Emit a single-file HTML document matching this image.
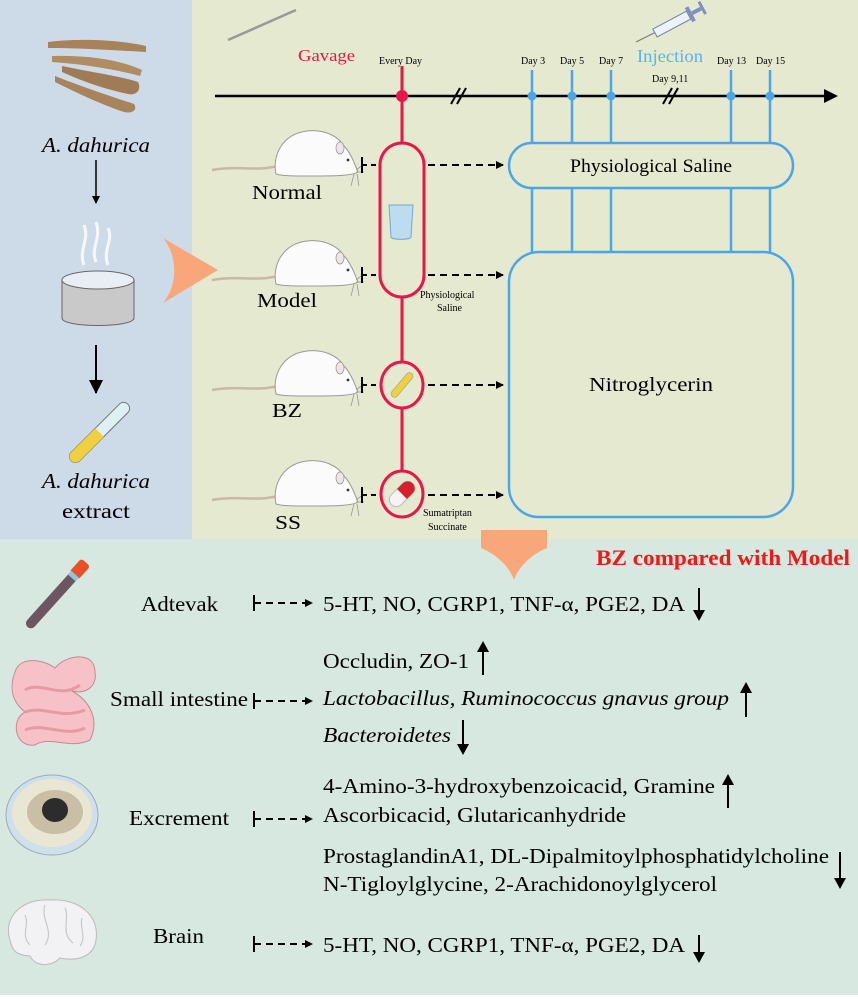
<!DOCTYPE html>
<html><head><meta charset="utf-8"><style>
html,body{margin:0;padding:0;background:#fff}
svg{display:block}
text{font-family:"Liberation Serif",serif}
</style></head><body>
<svg width="858" height="999" viewBox="0 0 858 999" xmlns="http://www.w3.org/2000/svg">
<defs>
<marker id="ah" markerWidth="8" markerHeight="8" refX="7" refY="4" orient="auto" markerUnits="userSpaceOnUse"><path d="M0,0 L8,4 L0,8 z" fill="#000"/></marker>
<marker id="ahb" markerWidth="14" markerHeight="14" refX="13" refY="7" orient="auto" markerUnits="userSpaceOnUse"><path d="M0,0 L14,7 L0,14 z" fill="#000"/></marker>
<g id="rat">
<path d="M0,42 C20,38 40,42 55,40 C62,39 66,38 70,38" fill="none" stroke="#c8b8a8" stroke-width="2.5"/>
<path d="M64,46 C60,28 70,6 95,3 C112,1 126,8 132,18 C138,24 142,34 146,44 C140,48 120,48 100,48 C82,48 70,48 64,46 z" fill="#fbfbfb" stroke="#999" stroke-width="1"/>
<ellipse cx="128" cy="20" rx="4" ry="6" fill="#eee6e6" stroke="#999" stroke-width="0.8"/>
<circle cx="136" cy="32" r="1.4" fill="#333"/>
<path d="M144,42 l8,-6 M144,44 l8,0 M142,46 l-3,12 M145,46 l2,12" stroke="#999" stroke-width="0.8"/>
</g>
</defs>
<rect x="0" y="0" width="858" height="999" fill="#d6e8df"/>
<rect x="0" y="0" width="192" height="539" fill="#cddbe9"/>
<rect x="192" y="0" width="666" height="539" fill="#e5e9cf"/>
<rect x="0" y="995" width="858" height="4" fill="#fff"/>

<g>
<path d="M48,42 C80,38 120,40 146,46 L146,52 C110,50 80,48 48,48 z" fill="#a8825a"/>
<path d="M52,56 C90,55 120,60 142,70 L140,76 C110,68 80,64 52,62 z" fill="#b08c62"/>
<path d="M62,66 C90,72 120,76 138,82 C142,90 136,96 128,94 C100,88 80,80 62,72 z" fill="#9f7c56"/>
<path d="M55,76 C80,86 110,96 134,104 C138,110 132,114 124,112 C100,104 75,92 55,82 z" fill="#a8845c"/>
</g>
<text x="42" y="152" font-size="21" font-style="italic" textLength="108" lengthAdjust="spacingAndGlyphs">A. dahurica</text>
<line x1="96" y1="160" x2="96" y2="203" stroke="#000" stroke-width="1.5" marker-end="url(#ah)"/>
<g fill="none" stroke="#fff" stroke-width="3" opacity="0.8">
<path d="M84,265 C78,250 90,240 84,225"/><path d="M96,262 C90,248 102,238 96,222"/><path d="M108,265 C102,250 114,240 108,228"/>
</g>
<path d="M62,280 L62,318 C62,328 134,328 134,318 L134,280 z" fill="#c9c9c9" stroke="#666" stroke-width="1"/>
<ellipse cx="98" cy="280" rx="36" ry="9" fill="#e9eef5" stroke="#666" stroke-width="1"/>
<line x1="96" y1="345" x2="96" y2="393" stroke="#000" stroke-width="2" marker-end="url(#ahb)"/>
<g transform="translate(96,436) rotate(45)">
<rect x="-6" y="-45" width="12" height="80" rx="6" fill="#dff0f4" stroke="#777" stroke-width="1"/>
<path d="M-6,-5 h12 v34 a6,6 0 0 1 -12,0 z" fill="#f0d040"/>
</g>
<text x="42" y="488" font-size="21" font-style="italic" textLength="108" lengthAdjust="spacingAndGlyphs">A. dahurica</text>
<text x="62" y="518" font-size="21" textLength="68" lengthAdjust="spacingAndGlyphs">extract</text>
<path d="M163,238 L218,270 L163,303 C178,285 178,256 163,238 z" fill="#f9a77a"/>

<line x1="228" y1="40" x2="296" y2="10" stroke="#999" stroke-width="2.5"/>
<text x="298" y="61" font-size="17" fill="#e8174a" textLength="57" lengthAdjust="spacingAndGlyphs">Gavage</text>
<text x="379" y="64" font-size="10">Every Day</text>
<g font-size="10">
<text x="521" y="64">Day 3</text><text x="560" y="64">Day 5</text><text x="599" y="64">Day 7</text>
<text x="652" y="82">Day 9,11</text><text x="717" y="64">Day 13</text><text x="756" y="64">Day 15</text>
</g>
<text x="637" y="62" font-size="18" fill="#5ab4e8" textLength="66" lengthAdjust="spacingAndGlyphs">Injection</text>
<line x1="636" y1="42" x2="656" y2="32" stroke="#777" stroke-width="1"/>
<g transform="translate(655,33) rotate(-28)"><rect x="0" y="-4.5" width="38" height="9" fill="#eef2fa" stroke="#7080b0"/><rect x="38" y="-8" width="4" height="16" fill="#8090c0"/><rect x="42" y="-2" width="10" height="4" fill="#8090c0"/><rect x="52" y="-7" width="3" height="14" fill="#8090c0"/></g>
<line x1="215" y1="96" x2="826" y2="96" stroke="#000" stroke-width="2.5"/>
<path d="M824,89 L838,96 L824,103 z" fill="#000"/>
<g stroke="#000" stroke-width="2"><line x1="451" y1="104" x2="460" y2="88"/><line x1="457" y1="104" x2="466" y2="88"/><line x1="663" y1="104" x2="672" y2="88"/><line x1="669" y1="104" x2="678" y2="88"/></g>

<g stroke="#4aa6e8" stroke-width="2.5" fill="none">
<line x1="532" y1="70" x2="532" y2="252"/><line x1="572" y1="70" x2="572" y2="252"/><line x1="611" y1="70" x2="611" y2="252"/><line x1="731" y1="70" x2="731" y2="252"/><line x1="770" y1="70" x2="770" y2="252"/>
<rect x="509" y="143" width="284" height="45" rx="22.5" fill="#e5e9cf"/>
<rect x="509" y="252" width="284" height="265" rx="30"/>
</g>
<g fill="#4aa6e8"><circle cx="532" cy="96" r="4.5"/><circle cx="572" cy="96" r="4.5"/><circle cx="611" cy="96" r="4.5"/><circle cx="731" cy="96" r="4.5"/><circle cx="770" cy="96" r="4.5"/></g>
<text x="570" y="172" font-size="19" textLength="162" lengthAdjust="spacingAndGlyphs">Physiological Saline</text>
<text x="589" y="391" font-size="20" textLength="124" lengthAdjust="spacingAndGlyphs">Nitroglycerin</text>

<g stroke="#e8174a" stroke-width="3" fill="none">
<line x1="402" y1="66" x2="402" y2="143"/><line x1="402" y1="297" x2="402" y2="362"/><line x1="402" y1="408" x2="402" y2="471"/>
<rect x="380" y="143" width="44" height="154" rx="22"/>
<ellipse cx="402" cy="385" rx="21" ry="23"/><ellipse cx="402" cy="494" rx="21" ry="23"/>
</g>
<circle cx="402" cy="96" r="6" fill="#e8174a"/>
<path d="M389,205 h24 l-2,32 c0,3 -20,3 -20,0 z" fill="#bcdcf0" stroke="#7aa6c4"/>
<g transform="translate(402,385) rotate(40)"><rect x="-3.5" y="-15" width="7" height="30" rx="3.5" fill="#f0d040" stroke="#999" stroke-width="0.6"/></g>
<g transform="translate(402,494) rotate(45)"><rect x="-7" y="-15" width="14" height="30" rx="7" fill="#f4f4f4" stroke="#bbb"/><path d="M-7,-8 a7,7 0 0 1 14,0 v8 h-14 z" fill="#d8202a"/></g>
<text x="420" y="298" font-size="10">Physiological</text><text x="437" y="311" font-size="10">Saline</text>
<text x="423" y="516" font-size="10">Sumatriptan</text><text x="428" y="530" font-size="10">Succinate</text>

<g>
<use href="#rat" transform="translate(212,128)"/>
<use href="#rat" transform="translate(212,238)"/>
<use href="#rat" transform="translate(212,348)"/>
<use href="#rat" transform="translate(212,458)"/>
</g>
<g font-size="20">
<text x="252" y="199" textLength="70" lengthAdjust="spacingAndGlyphs">Normal</text>
<text x="257" y="307" textLength="60" lengthAdjust="spacingAndGlyphs">Model</text>
<text x="272" y="417" textLength="30" lengthAdjust="spacingAndGlyphs">BZ</text>
<text x="275" y="529" textLength="26" lengthAdjust="spacingAndGlyphs">SS</text>
</g>
<g stroke="#000" stroke-width="2">
<line x1="362" y1="157" x2="362" y2="173"/><line x1="362" y1="165" x2="380" y2="165" stroke-dasharray="5,4"/>
<line x1="362" y1="267" x2="362" y2="283"/><line x1="362" y1="275" x2="380" y2="275" stroke-dasharray="5,4"/>
<line x1="362" y1="377" x2="362" y2="393"/><line x1="362" y1="385" x2="380" y2="385" stroke-dasharray="5,4"/>
<line x1="362" y1="487" x2="362" y2="503"/><line x1="362" y1="495" x2="380" y2="495" stroke-dasharray="5,4"/>
<line x1="428" y1="165" x2="503" y2="165" stroke-dasharray="7,5" marker-end="url(#ah)"/>
<line x1="428" y1="275" x2="503" y2="275" stroke-dasharray="7,5" marker-end="url(#ah)"/>
<line x1="428" y1="385" x2="503" y2="385" stroke-dasharray="7,5" marker-end="url(#ah)"/>
<line x1="428" y1="495" x2="503" y2="495" stroke-dasharray="7,5" marker-end="url(#ah)"/>
</g>

<path d="M481,530 L547,530 L547,548 C530,555 518,568 514,580 C510,568 498,555 481,548 z" fill="#f9a77a"/>
<text x="596" y="565" font-size="22" font-weight="bold" fill="#f01818" textLength="254" lengthAdjust="spacingAndGlyphs">BZ compared with Model</text>

<g transform="translate(51,601) rotate(42)"><rect x="-5" y="-45" width="10" height="80" rx="5" fill="#6e5560"/><rect x="-6" y="-52" width="12" height="18" rx="3" fill="#e8502a"/><rect x="-5" y="-36" width="10" height="5" fill="#8ac8e0"/></g>
<g fill="#f6c2c8" stroke="#c88890" stroke-width="1">
<path d="M15,672 C20,655 45,660 55,668 C65,655 95,650 95,672 C98,690 80,695 70,690 C90,700 100,720 90,740 C70,750 50,735 35,745 C15,748 10,720 25,712 C10,700 10,685 15,672 z"/>
</g>
<g fill="none" stroke="#e89aa4" stroke-width="3"><path d="M25,690 C40,680 60,700 80,685"/><path d="M25,712 C45,705 60,720 85,710"/><path d="M25,730 C45,722 65,738 85,728"/></g>
<ellipse cx="52" cy="815" rx="46" ry="40" fill="#cfe0ea" stroke="#9ab" stroke-width="1"/>
<ellipse cx="52" cy="813" rx="40" ry="34" fill="#e9e6d4"/>
<ellipse cx="55" cy="812" rx="28" ry="22" fill="#c9bfa4"/>
<ellipse cx="55" cy="810" rx="13" ry="12" fill="#2c2c2c"/>
<path d="M10,940 C2,915 25,898 50,900 C78,898 100,915 96,940 C94,955 80,962 60,958 C50,968 35,966 30,956 C15,955 12,950 10,940 z" fill="#f2f2f4" stroke="#bbb"/>
<g fill="none" stroke="#c8c8cc" stroke-width="1.2"><path d="M25,915 c5,10 -5,20 5,30"/><path d="M45,905 c-5,15 10,25 0,40"/><path d="M65,908 c5,10 -5,25 8,35"/><path d="M82,918 c-3,10 5,18 -2,28"/></g>

<g font-size="21">
<text x="141" y="611" textLength="77" lengthAdjust="spacingAndGlyphs">Adtevak</text>
<text x="110" y="706" textLength="138" lengthAdjust="spacingAndGlyphs">Small intestine</text>
<text x="129" y="825" textLength="100" lengthAdjust="spacingAndGlyphs">Excrement</text>
<text x="153" y="943" textLength="51" lengthAdjust="spacingAndGlyphs">Brain</text>
<text x="323" y="611" textLength="362" lengthAdjust="spacingAndGlyphs">5-HT, NO, CGRP1, TNF-α, PGE2, DA</text>
<text x="323" y="668" textLength="146" lengthAdjust="spacingAndGlyphs">Occludin, ZO-1</text>
<text x="323" y="705" font-style="italic" textLength="406" lengthAdjust="spacingAndGlyphs">Lactobacillus, Ruminococcus gnavus group</text>
<text x="323" y="742" font-style="italic" textLength="128" lengthAdjust="spacingAndGlyphs">Bacteroidetes</text>
<text x="323" y="793" textLength="392" lengthAdjust="spacingAndGlyphs">4-Amino-3-hydroxybenzoicacid, Gramine</text>
<text x="323" y="822" textLength="303" lengthAdjust="spacingAndGlyphs">Ascorbicacid, Glutaricanhydride</text>
<text x="323" y="863" textLength="506" lengthAdjust="spacingAndGlyphs">ProstaglandinA1, DL-Dipalmitoylphosphatidylcholine</text>
<text x="323" y="891" textLength="394" lengthAdjust="spacingAndGlyphs">N-Tigloylglycine, 2-Arachidonoylglycerol</text>
<text x="323" y="952" textLength="362" lengthAdjust="spacingAndGlyphs">5-HT, NO, CGRP1, TNF-α, PGE2, DA</text>
</g>
<g stroke="#000" stroke-width="2">
<line x1="254" y1="595" x2="254" y2="611"/><line x1="254" y1="603" x2="312" y2="603" stroke-dasharray="7,5" marker-end="url(#ah)"/>
<line x1="254" y1="693" x2="254" y2="709"/><line x1="254" y1="701" x2="312" y2="701" stroke-dasharray="7,5" marker-end="url(#ah)"/>
<line x1="254" y1="811" x2="254" y2="827"/><line x1="254" y1="819" x2="312" y2="819" stroke-dasharray="7,5" marker-end="url(#ah)"/>
<line x1="254" y1="936" x2="254" y2="952"/><line x1="254" y1="944" x2="312" y2="944" stroke-dasharray="7,5" marker-end="url(#ah)"/>
<line x1="699" y1="588" x2="699" y2="612"/><line x1="483" y1="675" x2="483" y2="650"/><line x1="746" y1="717" x2="746" y2="691"/>
<line x1="463" y1="720" x2="463" y2="746"/><line x1="728" y1="808" x2="728" y2="783"/><line x1="840" y1="852" x2="840" y2="880"/>
<line x1="699" y1="935" x2="699" y2="954"/>
</g>
<g fill="#000">
<path d="M693,610 L705,610 L699,621 z"/><path d="M477,652 L489,652 L483,641 z"/><path d="M740,693 L752,693 L746,682 z"/>
<path d="M457,744 L469,744 L463,755 z"/><path d="M722,785 L734,785 L728,774 z"/><path d="M834,878 L846,878 L840,889 z"/>
<path d="M693,952 L705,952 L699,963 z"/>
</g>
</svg>
</body></html>
